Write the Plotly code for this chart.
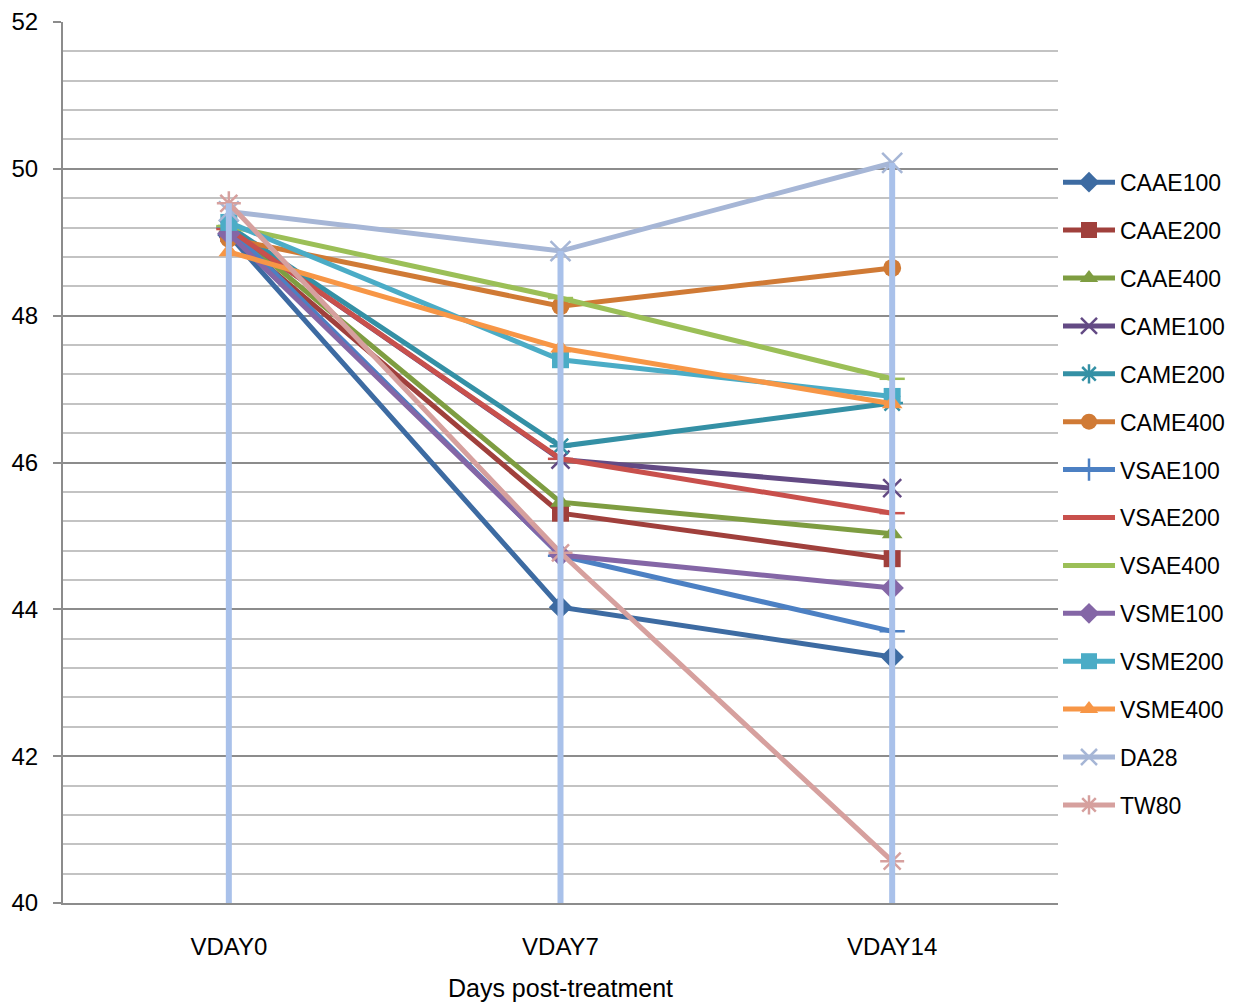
import plotly.graph_objects as go

categories = ["VDAY0", "VDAY7", "VDAY14"]

series_names = ["CAAE100", "CAAE200", "CAAE400", "CAME100", "CAME200", "CAME400",
                "VSAE100", "VSAE200", "VSAE400", "VSME100", "VSME200", "VSME400",
                "DA28", "TW80"]

CAAE100 = [49.10, 44.03, 43.35]
CAAE200 = [49.12, 45.31, 44.69]
CAAE400 = [49.20, 45.46, 45.03]
CAME100 = [49.18, 46.04, 45.65]
CAME200 = [49.22, 46.22, 46.81]
CAME400 = [49.05, 48.13, 48.65]
VSAE100 = [49.20, 44.73, 43.70]
VSAE200 = [49.18, 46.05, 45.31]
VSAE400 = [49.22, 48.24, 47.14]
VSME100 = [49.12, 44.74, 44.29]
VSME200 = [49.27, 47.40, 46.90]
VSME400 = [48.87, 47.56, 46.80]
DA28 = [49.42, 48.88, 50.08]
TW80 = [49.53, 44.77, 40.57]

series_values = [CAAE100, CAAE200, CAAE400, CAME100, CAME200, CAME400,
                 VSAE100, VSAE200, VSAE400, VSME100, VSME200, VSME400, DA28, TW80]

colors = ["#3D6BA2", "#A0403C", "#7E9D41", "#634A84", "#3490A5", "#D07A35",
          "#4C80C3", "#C8504C", "#9BBF57", "#8466A6", "#4BACC6", "#F79646",
          "#A6B6D6", "#D6A09E"]
symbols = ["diamond", "square", "triangle-up", "x-thin", "asterisk", "circle",
           "cross-thin", "line-ew", "line-ew", "diamond", "square", "triangle-up",
           "x-thin", "asterisk"]
sizes = [18, 17, 18, 18, 18, 18, 18, 18, 18, 18, 17, 18, 20, 20]

y_ticks = [40, 42, 44, 46, 48, 50, 52]

FONT = "Liberation Sans"

fig = go.Figure()
for name, vals, c, s, sz in zip(series_names, series_values, colors, symbols, sizes):
    thin = s in ("x-thin", "asterisk", "cross-thin", "line-ew")
    fig.add_trace(go.Scatter(
        x=categories, y=vals, name=name, mode="lines+markers",
        legendgroup=name,
        line=dict(color=c, width=5),
        marker=dict(symbol=s, size=sz, color=c,
                    line=dict(color=c, width=2.5 if thin else 0)),
    ))

# drop lines from the highest point of each category to the axis
ymin = y_ticks[0]
drop_x, drop_y = [], []
for i, cat in enumerate(categories):
    top = max(v[i] for v in series_values)
    drop_x += [cat, cat, None]
    drop_y += [ymin, top, None]
fig.add_trace(go.Scatter(x=drop_x, y=drop_y, mode="lines", showlegend=False,
                         hoverinfo="skip", line=dict(color="#A9C1EA", width=6)))

fig.update_layout(
    width=1241, height=1008,
    margin=dict(l=63, r=183, t=22, b=105, autoexpand=False),
    paper_bgcolor="white", plot_bgcolor="white",
    font=dict(family=FONT, size=24, color="#000000"),
    showlegend=True,
    legend=dict(x=1.0, xanchor="left", y=0.8425, yanchor="top",
                font=dict(family=FONT, size=23), tracegroupgap=15,
                itemwidth=52, bgcolor="rgba(0,0,0,0)"),
    xaxis=dict(
        type="category", range=[-0.5, 2.5], showgrid=False, automargin=False,
        showline=True, linecolor="#8C8C8C", linewidth=2,
        ticks="", tickfont=dict(family=FONT, size=24), ticklabelstandoff=21,
        title=dict(text="Days post-treatment", font=dict(family=FONT, size=25), standoff=21),
    ),
    yaxis=dict(
        range=[40, 52], tickvals=y_ticks, ticktext=[str(t) for t in y_ticks],
        automargin=False,
        showgrid=True, gridcolor="#8C8C8C", gridwidth=1.5,
        showline=True, linecolor="#8C8C8C", linewidth=2,
        ticks="outside", ticklen=8, tickcolor="#8C8C8C", tickwidth=1.5,
        tickfont=dict(family=FONT, size=24), ticklabelstandoff=10,
        zeroline=False,
        minor=dict(tick0=40, dtick=0.4, showgrid=True, gridcolor="#C3C3C3", gridwidth=1.5),
    ),
)

fig.write_html("out.html")
